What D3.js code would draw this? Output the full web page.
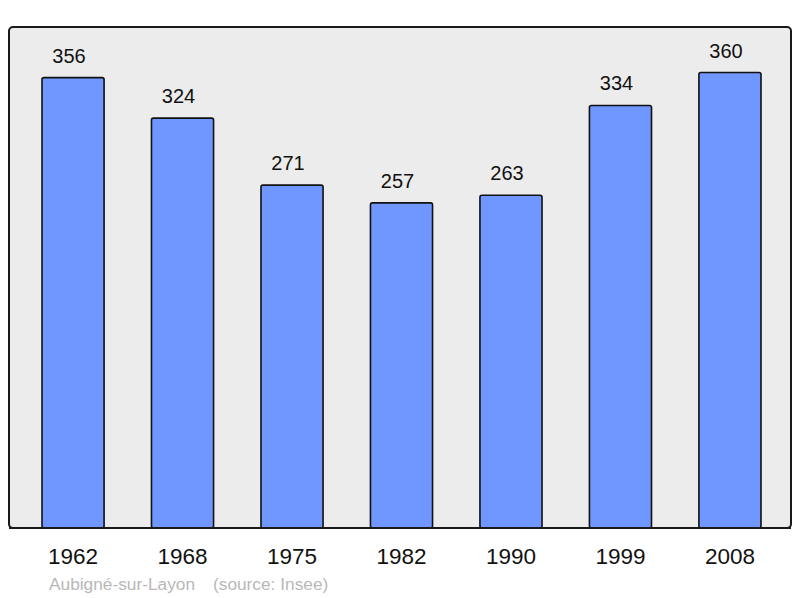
<!DOCTYPE html>
<html><head><meta charset="utf-8">
<script src="https://cdn.jsdelivr.net/npm/d3@7/dist/d3.min.js"></script>
<style>body{margin:0;background:#fff}svg{display:block}</style>
</head><body>
<script>
const years = ["1962","1968","1975","1982","1990","1999","2008"];
const population = [356,324,271,257,263,334,360];
const footerName = "Aubigné-sur-Layon";
const footerSource = "(source: Insee)";

const W = 800, H = 598;
const frame = {left: 9, top: 27, right: 791, bottom: 528};
const svg = d3.select("body").append("svg").attr("width", W).attr("height", H);
const FONT = "Liberation Sans, Arial, sans-serif";

svg.append("rect")
  .attr("x", frame.left).attr("y", frame.top)
  .attr("width", frame.right - frame.left).attr("height", frame.bottom - frame.top)
  .attr("rx", 4).attr("fill", "#ececec").attr("stroke", "#1a1a1a").attr("stroke-width", 2);

const x = d3.scaleBand().domain(years).range([42, 761]).paddingInner(0.433).paddingOuter(0);
const y = d3.scaleLinear().domain([0, d3.max(population) * 1.1]).range([frame.bottom, frame.top]);

const data = years.map((yr, i) => ({yr, v: population[i]}));

svg.selectAll("rect.bar").data(data).enter().append("rect")
  .attr("class", "bar")
  .attr("x", d => x(d.yr)).attr("y", d => y(d.v))
  .attr("width", x.bandwidth()).attr("height", d => y(0) - y(d.v))
  .attr("rx", 2)
  .attr("fill", "#7096ff").attr("stroke", "#111").attr("stroke-width", 1.6);

svg.append("line").attr("x1", frame.left).attr("x2", frame.right)
  .attr("y1", frame.bottom).attr("y2", frame.bottom)
  .attr("stroke", "#1a1a1a").attr("stroke-width", 2);

svg.selectAll("text.val").data(data).enter().append("text")
  .attr("class", "val")
  .attr("x", d => x(d.yr) + x.bandwidth() / 2 - 4)
  .attr("y", d => y(d.v) - 15)
  .attr("text-anchor", "middle")
  .attr("font-family", FONT).attr("font-size", 20)
  .attr("fill", "#111")
  .text(d => d.v);

const xAxis = d3.axisBottom(x).tickSize(0).tickPadding(0);
const ax = svg.append("g").attr("transform", `translate(0, ${frame.bottom})`).call(xAxis);
ax.select(".domain").remove();
ax.selectAll("text")
  .attr("y", 36).attr("dy", 0)
  .attr("font-family", FONT).attr("font-size", 22.5)
  .attr("fill", "#111");

svg.append("text").attr("x", 49).attr("y", 590)
  .attr("font-family", FONT).attr("font-size", 17.3)
  .attr("fill", "#b8b8b8").text(footerName);
svg.append("text").attr("x", 213).attr("y", 590)
  .attr("font-family", FONT).attr("font-size", 17.3)
  .attr("fill", "#b8b8b8").text(footerSource);
</script>
</body></html>
